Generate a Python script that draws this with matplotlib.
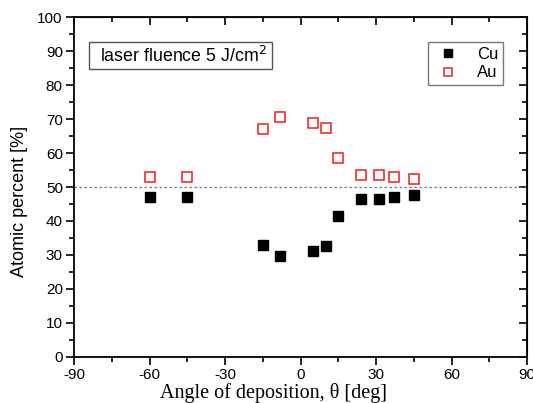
import matplotlib
matplotlib.use("Agg")
import matplotlib.pyplot as plt
from matplotlib.patches import Rectangle
from matplotlib.ticker import MultipleLocator

angles = [-60, -45, -15, -8, 5, 10, 15, 24, 31, 37, 45]
cu = [47.0, 47.0, 33.0, 29.6, 31.0, 32.5, 41.5, 46.5, 46.5, 47.0, 47.5]
au = [53.0, 53.0, 67.0, 70.5, 69.0, 67.4, 58.5, 53.5, 53.5, 53.0, 52.5]

plt.rcParams['font.family'] = ['Liberation Sans', 'DejaVu Sans']
plt.rcParams['axes.unicode_minus'] = False

fig = plt.figure(figsize=(5.33, 4.03), dpi=100)
ax = fig.add_axes([0.1388, 0.1149, 0.8502, 0.8421])

ax.axhline(50, color='#777777', lw=0.9, ls=(0, (2, 2)), zorder=1)
ax.plot(angles, cu, ls='none', marker='s', ms=6.5, mfc='black', mec='black', label='Cu', zorder=3)
ax.plot(angles, au, ls='none', marker='s', ms=6.5, mfc='white', mec='#ee1c1c', mew=1.1, label='Au', zorder=3)

ax.set_xlim(-90, 90)
ax.set_ylim(0, 100)
ax.xaxis.set_major_locator(MultipleLocator(30))
ax.xaxis.set_minor_locator(MultipleLocator(15))
ax.yaxis.set_major_locator(MultipleLocator(10))
ax.yaxis.set_minor_locator(MultipleLocator(5))
ax.tick_params(which='both', direction='out', top=False, right=False, labelsize=11, width=1.2)
ax.tick_params(which='major', length=6, pad=2)
ax.tick_params(which='minor', length=3.5)
for s in ax.spines.values():
    s.set_linewidth(1.3)

# inward ticks on top and right
sec_x = ax.secondary_xaxis('top')
sec_x.xaxis.set_major_locator(MultipleLocator(30))
sec_x.xaxis.set_minor_locator(MultipleLocator(15))
sec_x.tick_params(which='both', direction='in', labeltop=False, width=1.2)
sec_x.tick_params(which='major', length=6)
sec_x.tick_params(which='minor', length=3.5)
sec_y = ax.secondary_yaxis('right')
sec_y.yaxis.set_major_locator(MultipleLocator(10))
sec_y.yaxis.set_minor_locator(MultipleLocator(5))
sec_y.tick_params(which='both', direction='in', labelright=False, width=1.2)
sec_y.tick_params(which='major', length=6)
sec_y.tick_params(which='minor', length=3.5)

fig.text(20 / 533, 1 - 201 / 403, 'Atomic percent [%]', rotation=90, fontsize=13,
         ha='center', va='center')
fig.text(273 / 533, 5 / 403, 'Angle of deposition, θ [deg]', fontsize=14.5,
         family=['Liberation Serif', 'DejaVu Serif'], ha='center', va='baseline')

ax.add_patch(Rectangle((0.0331, 0.8477), 0.404, 0.0796, transform=ax.transAxes,
                       fc='white', ec='#555555', lw=1.0, zorder=4))
ax.text(0.057, 0.8855, 'laser fluence 5 J/cm$^2$', transform=ax.transAxes, fontsize=12.8,
        va='center', ha='left', zorder=5)

leg = ax.legend(loc='upper right', bbox_to_anchor=(0.947, 0.927), fontsize=12, frameon=True,
                fancybox=False, edgecolor='#555555', handletextpad=0.8, borderpad=0.3,
                labelspacing=0.2, handlelength=1.8, markerscale=0.8, borderaxespad=0)
leg.get_frame().set_linewidth(1.0)

fig.savefig('out.png', dpi=100)
